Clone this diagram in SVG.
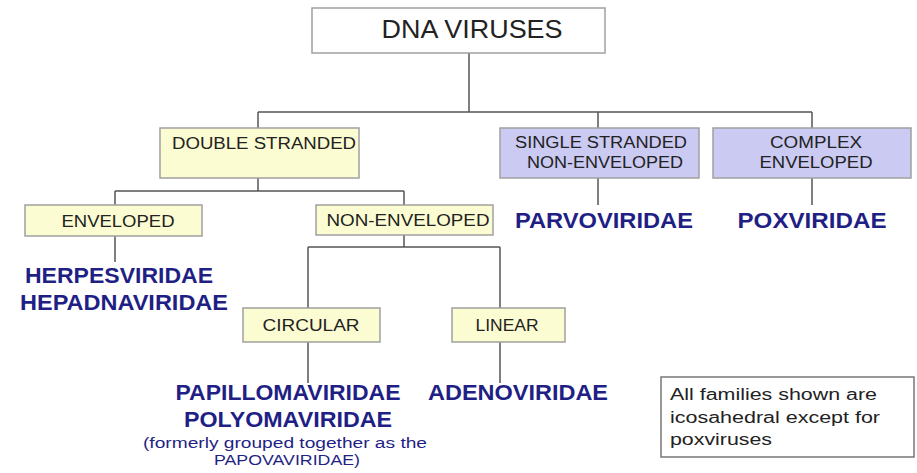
<svg xmlns="http://www.w3.org/2000/svg" width="917" height="473" viewBox="0 0 917 473">
<style>
.y{fill:#fcfcd2;stroke:#a0a0a0;stroke-width:1.5}
.b{fill:#cacaf2;stroke:#a0a0a0;stroke-width:1.5}
.w{fill:#fff;stroke:#a0a0a0;stroke-width:1.5}
.n{fill:#fff;stroke:#777;stroke-width:1.5}
text{font-family:"Liberation Sans",Arial,sans-serif}
.t{font-size:16px;fill:#222;text-anchor:middle}
.f{font-size:22px;font-weight:bold;fill:#1f1f85;text-anchor:middle}
.s{font-size:14px;fill:#1f1f85;text-anchor:middle}
.m{font-size:16px;fill:#222}
.c line{stroke:#555;stroke-width:1.5}
</style>
<g class="c" id="connectors">
<line x1="469" y1="53" x2="469" y2="112"/>
<line x1="258" y1="112" x2="812" y2="112"/>
<line x1="258" y1="112" x2="258" y2="128"/>
<line x1="598" y1="112" x2="598" y2="128"/>
<line x1="812" y1="112" x2="812" y2="128"/>
<line x1="258" y1="178" x2="258" y2="191"/>
<line x1="115" y1="191" x2="404" y2="191"/>
<line x1="115" y1="191" x2="115" y2="205"/>
<line x1="404" y1="191" x2="404" y2="205"/>
<line x1="115" y1="236" x2="115" y2="262"/>
<line x1="404" y1="235" x2="404" y2="247"/>
<line x1="308" y1="247" x2="500" y2="247"/>
<line x1="308" y1="247" x2="308" y2="308"/>
<line x1="500" y1="247" x2="500" y2="308"/>
<line x1="308" y1="342" x2="308" y2="383"/>
<line x1="500" y1="342" x2="500" y2="383"/>
<line x1="598" y1="178" x2="598" y2="205"/>
<line x1="812" y1="178" x2="812" y2="205"/>
</g>
<g id="dna">
<rect class="w" x="312" y="8" width="293" height="45"/>
<text class="t" x="472" y="38" style="font-size:25px" textLength="181" lengthAdjust="spacingAndGlyphs">DNA VIRUSES</text>
</g>
<g id="double">
<rect class="y" x="160" y="128" width="199" height="50"/>
<text class="t" x="264" y="149" textLength="184" lengthAdjust="spacingAndGlyphs">DOUBLE STRANDED</text>
</g>
<g id="single">
<rect class="b" x="500" y="128" width="199" height="50"/>
<text class="t" x="601" y="148" textLength="172" lengthAdjust="spacingAndGlyphs">SINGLE STRANDED</text>
<text class="t" x="605" y="168" textLength="156" lengthAdjust="spacingAndGlyphs">NON-ENVELOPED</text>
</g>
<g id="complex">
<rect class="b" x="713" y="128" width="198" height="50"/>
<text class="t" x="816" y="148" textLength="92" lengthAdjust="spacingAndGlyphs">COMPLEX</text>
<text class="t" x="816" y="168" textLength="113" lengthAdjust="spacingAndGlyphs">ENVELOPED</text>
</g>
<g id="enveloped">
<rect class="y" x="25" y="205" width="177" height="31"/>
<text class="t" x="118" y="227" textLength="113" lengthAdjust="spacingAndGlyphs">ENVELOPED</text>
</g>
<g id="nonenveloped">
<rect class="y" x="316" y="205" width="177" height="30"/>
<text class="t" x="408" y="226" textLength="163" lengthAdjust="spacingAndGlyphs">NON-ENVELOPED</text>
</g>
<g id="circular">
<rect class="y" x="243" y="308" width="137" height="34"/>
<text class="t" x="311" y="331" textLength="97" lengthAdjust="spacingAndGlyphs">CIRCULAR</text>
</g>
<g id="linear">
<rect class="y" x="452" y="308" width="113" height="34"/>
<text class="t" x="507" y="331" textLength="63" lengthAdjust="spacingAndGlyphs">LINEAR</text>
</g>
<g id="herpes">
<text class="f" x="119" y="283" textLength="188" lengthAdjust="spacingAndGlyphs">HERPESVIRIDAE</text>
<text class="f" x="124" y="310" textLength="208" lengthAdjust="spacingAndGlyphs">HEPADNAVIRIDAE</text>
</g>
<g id="parvo"><text class="f" x="604" y="228" textLength="178" lengthAdjust="spacingAndGlyphs">PARVOVIRIDAE</text></g>
<g id="pox"><text class="f" x="812" y="228" textLength="149" lengthAdjust="spacingAndGlyphs">POXVIRIDAE</text></g>
<g id="papova">
<text class="f" x="288" y="400" textLength="225" lengthAdjust="spacingAndGlyphs">PAPILLOMAVIRIDAE</text>
<text class="f" x="288" y="427" textLength="208" lengthAdjust="spacingAndGlyphs">POLYOMAVIRIDAE</text>
<text class="s" x="285" y="448" textLength="284" lengthAdjust="spacingAndGlyphs">(formerly grouped together as the</text>
<text class="s" x="287" y="465" textLength="146" lengthAdjust="spacingAndGlyphs">PAPOVAVIRIDAE)</text>
</g>
<g id="adeno"><text class="f" x="518" y="400" textLength="180" lengthAdjust="spacingAndGlyphs">ADENOVIRIDAE</text></g>
<g id="note">
<rect class="n" x="661" y="377" width="253" height="80"/>
<text class="m" x="670" y="400" textLength="207" lengthAdjust="spacingAndGlyphs">All families shown are</text>
<text class="m" x="670" y="423" textLength="210" lengthAdjust="spacingAndGlyphs">icosahedral except for</text>
<text class="m" x="670" y="445" textLength="102" lengthAdjust="spacingAndGlyphs">poxviruses</text>
</g>
</svg>
